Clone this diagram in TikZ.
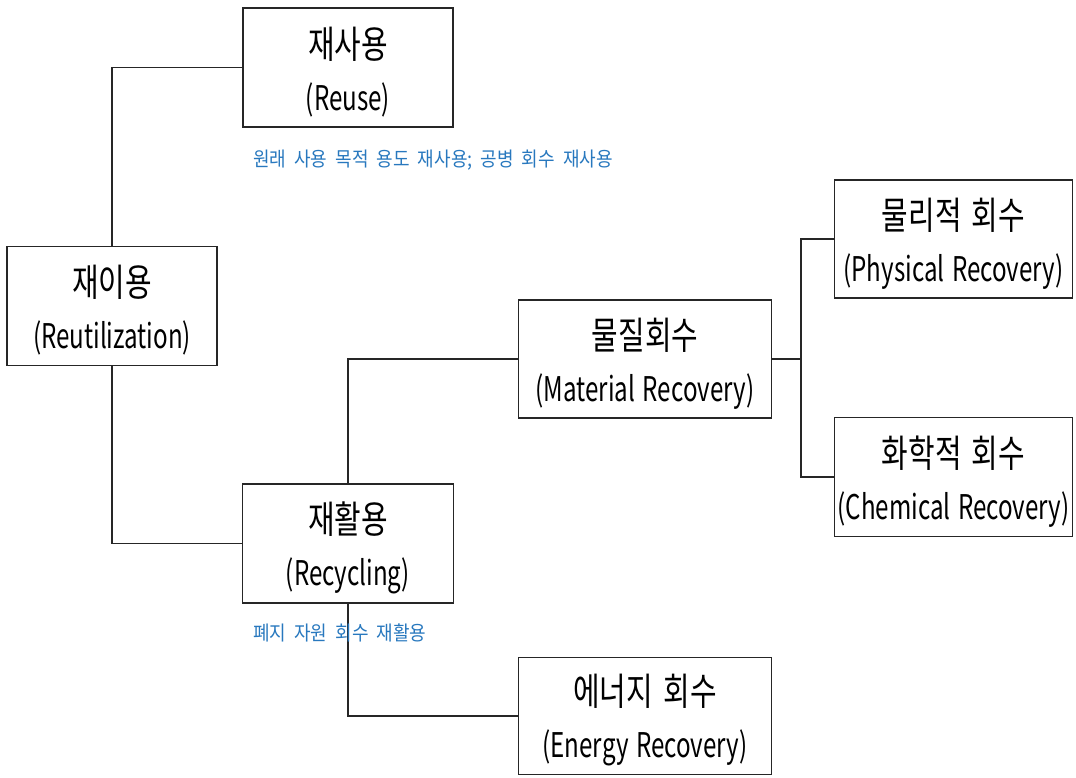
\documentclass[tikz,border=0pt]{standalone}
\usepackage{fontspec}
\setmainfont{Noto Sans CJK KR}[FakeStretch=0.71, WordSpace=1.4]
\newfontfamily\korfont{Noto Sans CJK KR}[FakeStretch=0.76, WordSpace=1.6]
\newfontfamily\notefont{Noto Sans CJK KR}[FakeStretch=0.9, WordSpace=2.0]
\newcommand\twoline[2]{{\korfont\fontsize{38}{52}\selectfont\rule{0pt}{40pt}#1}\\{#2}}
\definecolor{noteblue}{RGB}{40,120,190}
\begin{document}
\begin{tikzpicture}[x=1pt,y=-1pt,
  box/.style={draw=black!85, line width=1.6pt, fill=white, inner sep=0pt, align=center,
    font=\fontsize{34}{52}\selectfont},
  link/.style={draw=black!85, line width=1.5pt},
  note/.style={text=noteblue, anchor=west, inner sep=0pt, font=\notefont\fontsize{20}{22}\selectfont}]
\useasboundingbox (0,0) rectangle (1076,777);
\node[box, minimum width=210pt, minimum height=119pt] (reuse) at (348,67.5) {\twoline{재사용}{(Reuse)}};
\node[box, minimum width=210pt, minimum height=119pt] (reutil) at (112,306) {\twoline{재이용}{(Reutilization)}};
\node[box, minimum width=211pt, minimum height=119pt] (recyc) at (348,543.5) {\twoline{재활용}{(Recycling)}};
\node[box, minimum width=253pt, minimum height=118pt] (material) at (645,359) {\twoline{물질회수}{(Material Recovery)}};
\node[box, minimum width=253pt, minimum height=117pt] (energy) at (645,716) {\twoline{에너지 회수}{(Energy Recovery)}};
\node[box, minimum width=238pt, minimum height=118pt] (phys) at (953.5,239) {\twoline{물리적 회수}{(Physical Recovery)}};
\node[box, minimum width=238pt, minimum height=119pt] (chem) at (953.5,477) {\twoline{화학적 회수}{(Chemical Recovery)}};
\coordinate (junc) at (801,359);
\draw[link] (reutil.north) |- (reuse.west);
\draw[link] (reutil.south) |- (recyc.west);
\draw[link] (recyc.north) |- (material.west);
\draw[link] (recyc.south) |- (energy.west);
\draw[link] (material.east) -- (junc);
\draw[link] (phys.west) -| (junc) |- (chem.west);
\node[note] (n1) at (253,160) {원래 사용 목적 용도 재사용; 공병 회수 재사용};
\node[note] (n2) at (253,633) {폐지 자원 회수 재활용};
\end{tikzpicture}
\end{document}
